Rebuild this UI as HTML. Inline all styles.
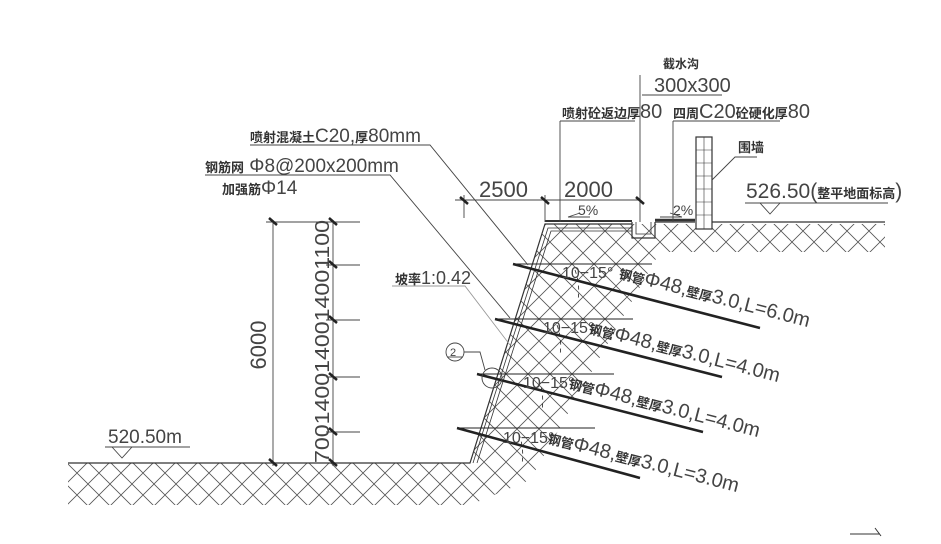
<!DOCTYPE html>
<html><head><meta charset="utf-8"><style>
html,body{margin:0;padding:0;background:#fff;}
svg{display:block;}
text{font-family:"Liberation Sans","Noto Sans CJK SC",sans-serif;fill:#444;}
.c{font-family:"Noto Sans CJK SC","WenQuanYi Zen Hei",sans-serif;font-weight:bold;fill:#333;}
</style></head><body>
<svg width="941" height="544" viewBox="0 0 941 544" xmlns="http://www.w3.org/2000/svg">
<defs>
<pattern id="h" width="22" height="22" patternUnits="userSpaceOnUse">
<path d="M0 0L22 22M22 0L0 22" stroke="#555" stroke-width="0.8"/>
</pattern>
</defs>
<polygon points="68,463 470,463 545,224 885,224 885,252 660,252 530,480 470,505 68,505" fill="url(#h)"/>
<g stroke="#333" fill="none" stroke-width="1.2">
<polyline points="68,463 470,463 545,224 632,224"/>
<polyline points="473,463 548,228 632,228" stroke-width="0.8"/>
<polyline points="477,463 551,231 632,231" stroke-width="0.8"/>
<polyline points="632,222 632,238 655,238 655,222"/>
<polyline points="636,222 636,234 651,234 651,222" stroke-width="0.8"/>
<line x1="655" y1="222" x2="695" y2="222"/>
<line x1="712" y1="222" x2="885" y2="222"/>
<line x1="545" y1="221" x2="632" y2="221" stroke-width="2"/>
<line x1="655" y1="220" x2="695" y2="220" stroke-width="2.5"/>
<rect x="696" y="137" width="16" height="92" fill="#fff"/>
<path d="M696 150H712M696 163H712M696 176H712M696 189H712M696 202H712M696 215H712M704 137V229" stroke-width="0.6"/>
</g>
<g stroke="#222" fill="none">
<line x1="513" y1="264" x2="652" y2="264" stroke-width="1"/>
<line x1="513" y1="264" x2="760" y2="328" stroke-width="2.6"/>
<line x1="495" y1="319" x2="633" y2="319" stroke-width="1"/>
<line x1="495" y1="319" x2="722" y2="377" stroke-width="2.6"/>
<line x1="477" y1="374" x2="614" y2="374" stroke-width="1"/>
<line x1="477" y1="374" x2="703" y2="432" stroke-width="2.6"/>
<line x1="457" y1="428" x2="595" y2="428" stroke-width="1"/>
<line x1="457" y1="428" x2="640" y2="478" stroke-width="2.6"/>
<path d="M575 270A60 60 0 0 1 578 300M557 325A60 60 0 0 1 560 355M539 380A60 60 0 0 1 542 410M519 434A60 60 0 0 1 522 464" stroke-dasharray="4 4" stroke-width="0.8"/>
</g>
<g stroke="#444" fill="none" stroke-width="0.9">
<line x1="273" y1="220" x2="273" y2="466"/>
<line x1="333" y1="220" x2="333" y2="466"/>
<line x1="266" y1="222" x2="360" y2="222"/>
<line x1="326" y1="265" x2="360" y2="265"/>
<line x1="326" y1="320" x2="360" y2="320"/>
<line x1="326" y1="377" x2="360" y2="377"/>
<line x1="326" y1="432" x2="360" y2="432"/>
<line x1="455" y1="200" x2="640" y2="200"/>
<line x1="464" y1="195" x2="464" y2="218"/>
<line x1="545" y1="195" x2="545" y2="222"/>
<line x1="640" y1="75" x2="640" y2="222"/>
<line x1="642" y1="95" x2="722" y2="95"/>
<line x1="560" y1="121" x2="635" y2="121"/><line x1="560" y1="121" x2="560" y2="222"/>
<line x1="673" y1="121" x2="780" y2="121"/><line x1="673" y1="121" x2="673" y2="222"/>
<polyline points="757,157 735,157 712,180"/>
<line x1="745" y1="203" x2="888" y2="203"/>
<polygon points="760,203 780,203 770,214"/>
<line x1="105" y1="447" x2="190" y2="447"/>
<polygon points="112,447 132,447 122,458"/>
<polyline points="250,145 430,145 528,265"/>
<polyline points="205,175 390,175 510,318"/>
<polyline points="392,286 465,286 510,345" stroke="#999"/>
<circle cx="455" cy="352" r="9"/><line x1="447" y1="357" x2="463" y2="357"/>
<polyline points="464,352 480,352 485,370"/>
<circle cx="492" cy="378" r="10"/>
<path d="M568 217L590 217M660 217L682 217M568 217L580 213M682 217L670 213"/>
</g>
<g stroke="#222" stroke-width="2.5">
<path d="M269 218l8 7M269 459l8 7M329 218l8 7M329 261l8 7M329 316l8 7M329 373l8 7M329 428l8 7M329 459l8 7M460 197l8 7M541 197l8 7M636 197l8 7"/>
</g>
<text x="266" y="345" font-size="22" transform="rotate(-90 266 345)" text-anchor="middle">6000</text>
<text x="329" y="463" font-size="20" transform="rotate(-90 329 463)" textLength="243" lengthAdjust="spacingAndGlyphs">7001400140014001100</text>
<text x="479" y="197" font-size="22">2500</text>
<text x="564" y="197" font-size="22">2000</text>
<text x="578" y="215" font-size="14">5%</text>
<text x="673" y="215" font-size="14">2%</text>
<text x="663" y="68" font-size="12" class="c">截水沟</text>
<text x="654" y="92" font-size="20">300x300</text>
<text x="562" y="118" font-size="13"><tspan class="c">喷射砼返边厚</tspan><tspan font-size="20">80</tspan></text>
<text x="673" y="118" font-size="13"><tspan class="c">四周</tspan><tspan font-size="20">C20</tspan><tspan class="c">砼硬化厚</tspan><tspan font-size="20">80</tspan></text>
<text x="738" y="152" font-size="13" class="c">围墙</text>
<text x="746" y="198" font-size="21">526.50(<tspan class="c" font-size="13">整平地面标高</tspan>)</text>
<text x="108" y="443" font-size="19">520.50m</text>
<text x="250" y="142" font-size="13"><tspan class="c">喷射混凝土</tspan><tspan font-size="19">C20,</tspan><tspan class="c">厚</tspan><tspan font-size="19">80mm</tspan></text>
<text x="205" y="172" font-size="13"><tspan class="c">钢筋网</tspan><tspan font-size="19"> Φ8@200x200mm</tspan></text>
<text x="222" y="194" font-size="13"><tspan class="c">加强筋</tspan><tspan font-size="19">Φ14</tspan></text>
<text x="395" y="284" font-size="13"><tspan class="c">坡率</tspan><tspan font-size="18">1:0.42</tspan></text>
<text x="450" y="356" font-size="11" fill="#222">2</text>
<text x="562" y="278" font-size="16">10−15°</text>
<text x="543" y="333" font-size="16">10−15°</text>
<text x="523" y="388" font-size="16">10−15°</text>
<text x="503" y="443" font-size="16">10−15°</text>
<g font-size="20">
<text x="618" y="278" transform="rotate(14.5 618 278)"><tspan class="c" font-size="13">钢管</tspan>Φ48,<tspan class="c" font-size="13">壁厚</tspan>3.0,L=6.0m</text>
<text x="588" y="333" transform="rotate(14.5 588 333)"><tspan class="c" font-size="13">钢管</tspan>Φ48,<tspan class="c" font-size="13">壁厚</tspan>3.0,L=4.0m</text>
<text x="568" y="388" transform="rotate(14.5 568 388)"><tspan class="c" font-size="13">钢管</tspan>Φ48,<tspan class="c" font-size="13">壁厚</tspan>3.0,L=4.0m</text>
<text x="547" y="443" transform="rotate(14.5 547 443)"><tspan class="c" font-size="13">钢管</tspan>Φ48,<tspan class="c" font-size="13">壁厚</tspan>3.0,L=3.0m</text>
</g>
<path d="M850 534L880 534M875 528l6 8" stroke="#333" fill="none"/>
</svg>
</body></html>
